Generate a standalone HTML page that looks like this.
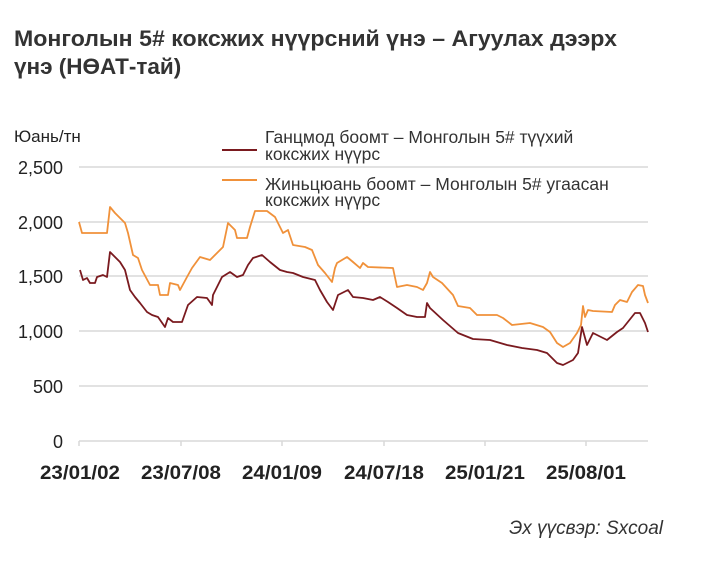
<!DOCTYPE html><html><head><meta charset="utf-8"><style>
body{margin:0;width:712px;height:566px;background:#fff;font-family:"Liberation Sans",sans-serif;overflow:hidden}
</style></head><body>
<svg width="712" height="566" xmlns="http://www.w3.org/2000/svg" font-family="Liberation Sans, sans-serif">
<text x="14" y="46" font-size="22.5" font-weight="bold" fill="#333" textLength="603" lengthAdjust="spacingAndGlyphs">Монголын 5# коксжих нүүрсний үнэ – Агуулах дээрх</text>
<text x="14" y="74" font-size="22.5" font-weight="bold" fill="#333">үнэ (НӨАТ-тай)</text>
<text x="14" y="142" font-size="17" fill="#222">Юань/тн</text>
<g stroke="#d9d9d9" stroke-width="1.5">
<line x1="79" x2="648" y1="167" y2="167"/><line x1="79" x2="648" y1="222" y2="222"/><line x1="79" x2="648" y1="276" y2="276"/><line x1="79" x2="648" y1="331" y2="331"/><line x1="79" x2="648" y1="386" y2="386"/><line x1="79" x2="648" y1="441" y2="441"/>
<line x1="79" x2="79" y1="441" y2="446"/><line x1="181" x2="181" y1="441" y2="446"/><line x1="282" x2="282" y1="441" y2="446"/><line x1="384" x2="384" y1="441" y2="446"/><line x1="485" x2="485" y1="441" y2="446"/><line x1="586" x2="586" y1="441" y2="446"/>
</g>
<g font-size="18" fill="#222" text-anchor="end">
<text x="63" y="174">2,500</text><text x="63" y="229">2,000</text><text x="63" y="283">1,500</text><text x="63" y="338">1,000</text><text x="63" y="393">500</text><text x="63" y="448">0</text>
</g>
<g font-size="19" font-weight="bold" fill="#222" text-anchor="middle">
<text x="80" y="479" textLength="80" lengthAdjust="spacingAndGlyphs">23/01/02</text><text x="181" y="479" textLength="80" lengthAdjust="spacingAndGlyphs">23/07/08</text><text x="282" y="479" textLength="80" lengthAdjust="spacingAndGlyphs">24/01/09</text><text x="384" y="479" textLength="80" lengthAdjust="spacingAndGlyphs">24/07/18</text><text x="485" y="479" textLength="80" lengthAdjust="spacingAndGlyphs">25/01/21</text><text x="586" y="479" textLength="80" lengthAdjust="spacingAndGlyphs">25/08/01</text>
</g>
<line x1="222" x2="257" y1="150" y2="150" stroke="#7a1a1f" stroke-width="2"/>
<line x1="222" x2="257" y1="180" y2="180" stroke="#f0913a" stroke-width="2"/>
<g font-size="17.5" fill="#333">
<text x="265" y="143">Ганцмод боомт – Монголын 5# түүхий</text>
<text x="265" y="160">коксжих нүүрс</text>
<text x="265" y="190">Жиньцюань боомт – Монголын 5# угаасан</text>
<text x="265" y="206">коксжих нүүрс</text>
</g>
<polyline fill="none" stroke="#f0913a" stroke-width="1.8" stroke-linejoin="round" points="79,222 82,233 107,233 110,207 115,213 125,223 128,233 133,255 138,258 142,270 150,285 158,285 160,295 168,295 170,283 178,285 180,290 187,277 192,268 200,257 210,260 217,253 223,247 228,223 235,230 237,238 247,238 250,227 255,211 267,211 275,217 283,233 288,230 293,245 305,247 312,250 318,265 325,273 332,282 335,268 337,263 347,257 353,262 360,268 363,263 368,267 393,268 397,287 407,285 417,287 423,290 427,283 430,272 433,277 442,283 453,295 458,306 470,308 477,315 497,315 503,318 512,325 530,323 543,327 550,332 557,343 563,347 570,343 577,333 581,325 583,306 585,317 588,310 593,311 612,312 615,305 620,300 627,302 632,292 638,285 643,286 645,295 648,303"/>
<polyline fill="none" stroke="#7a1a1f" stroke-width="1.8" stroke-linejoin="round" points="80,270 83,280 87,278 90,283 95,283 97,277 103,275 107,277 110,252 115,257 120,262 125,270 130,290 135,297 140,303 147,312 152,315 158,317 165,327 168,318 173,322 182,322 188,305 197,297 207,298 212,305 213,295 222,277 230,272 237,277 243,275 248,265 253,258 262,255 270,262 280,270 287,272 293,273 303,277 315,280 320,290 327,302 333,310 338,295 348,290 353,297 363,298 373,300 380,297 388,302 397,308 407,315 417,317 425,317 427,303 430,308 443,320 458,333 473,339 490,340 507,345 522,348 537,350 547,353 557,363 563,365 573,360 578,353 582,327 587,345 593,333 607,340 617,332 623,328 635,313 640,313 645,323 648,332"/>
<text x="663" y="534" font-size="19" font-style="italic" fill="#333" text-anchor="end">Эх үүсвэр: Sxcoal</text>
</svg>
</body></html>
